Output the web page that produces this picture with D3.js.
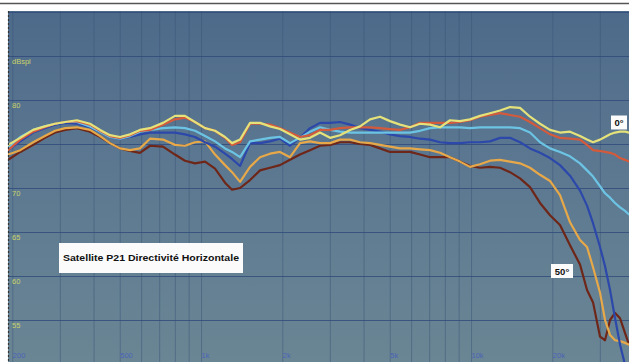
<!DOCTYPE html>
<html><head><meta charset="utf-8">
<script src="https://cdn.jsdelivr.net/npm/d3@7/dist/d3.min.js"></script>
<style>body{margin:0;background:#fff}svg{display:block}</style>
</head><body><svg id="c" width="629" height="362"></svg>
<script>
// ---- data ----
const freqs = [193,214,239,264,288,314,347,388,423,460,501,546,594,647,723,801,872,950,1035,1127,1227,1303,1395,1519,1654,1801,1961,2136,2326,2533,2759,3005,3273,3565,3882,4227,4603,5012,5458,5944,6473,7049,7677,8360,9105,9915,10798,11760,12806,13945,15188,16538,18012,19613,21358,23263,25333,26894,28310,30047,31356,32726,34152,35645,37196,38485];
const deg0  = [74.9,75.7,76.6,77.0,77.3,77.5,77.7,77.3,76.6,76.0,75.8,76.1,76.6,76.8,77.4,78.2,78.2,77.5,76.8,76.5,75.8,75.1,75.5,77.4,77.4,77.0,76.7,76.1,75.5,75.7,76.3,75.7,76.0,76.6,77.0,77.8,78.1,77.6,77.2,76.9,77.3,77.2,76.9,77.7,77.6,77.8,78.2,78.5,78.8,79.2,79.1,78.1,77.3,76.6,76.3,76.4,75.9,75.5,75.2,75.5,75.8,76.1,76.3,76.4,76.4,76.3];
const deg10 = [74.3,75.5,76.4,76.9,77.3,77.5,77.6,77.2,76.5,75.9,75.7,76.0,76.5,76.6,77.2,77.8,78.0,77.5,76.8,76.5,75.7,74.9,75.2,77.3,77.3,77.2,76.8,76.3,75.8,76.0,76.6,76.6,76.8,76.9,76.9,76.9,76.8,76.7,76.6,76.9,77.4,77.4,77.4,77.4,77.5,77.7,78.1,78.3,78.5,78.3,78.1,77.5,76.8,76.1,75.7,75.6,75.5,74.9,74.3,74.2,74.1,74.0,73.8,73.4,73.2,73.0];
const deg20 = [74.5,75.8,76.6,77.0,77.3,77.5,77.5,77.0,76.4,75.8,75.6,75.9,76.4,76.6,76.8,76.9,76.8,76.5,75.9,75.3,74.5,74.1,73.5,75.3,75.5,75.7,75.8,75.1,75.7,76.4,76.9,76.6,76.4,76.3,76.3,76.3,76.3,76.3,76.3,76.3,76.5,76.8,76.9,76.9,76.9,76.8,76.9,76.9,76.9,76.9,76.8,76.3,75.2,74.5,74.1,73.6,72.8,72.0,71.3,70.2,69.4,68.9,68.3,67.8,67.4,67.0];
const deg30 = [74.3,75.3,76.3,76.8,77.2,77.4,77.3,76.9,76.4,75.8,75.6,75.8,76.1,76.3,76.3,76.3,76.1,75.8,75.2,74.7,73.9,73.3,72.5,75.1,75.1,75.3,75.6,74.8,75.7,76.8,77.4,77.4,77.5,77.2,76.8,76.6,76.4,76.1,75.9,75.8,75.6,75.5,75.2,75.1,75.1,75.2,75.2,75.3,75.7,75.7,75.2,74.5,74.0,73.4,72.6,71.4,69.7,68.0,66.0,63.3,61.1,58.4,55.2,52.2,49.9,48.8];
const deg40 = [73.8,74.3,75.2,75.9,76.5,76.8,76.9,76.6,75.9,75.1,74.5,74.3,74.5,75.6,75.5,74.9,74.8,75.2,75.3,73.8,72.6,71.8,70.7,72.4,73.5,73.9,74.1,73.5,75.1,75.3,75.1,75.1,75.5,75.5,75.2,75.1,74.9,74.7,74.5,74.5,74.4,74.3,74.0,73.5,73.0,72.4,72.7,73.1,73.2,73.0,72.8,72.3,71.5,70.8,69.2,66.1,64.1,63.3,61.0,58.1,55.0,53.3,52.7,52.6,52.4,52.2];
const deg50 = [73.2,74.1,74.9,75.7,76.3,76.6,76.8,76.4,75.8,75.1,74.5,74.2,74.0,74.8,74.7,73.8,73.1,72.8,73.0,72.2,70.6,69.8,70.0,70.9,72.0,72.3,72.6,73.2,73.8,74.3,74.8,74.9,75.2,75.2,75.0,74.9,74.5,74.1,74.1,74.1,73.8,73.5,73.5,73.5,73.0,72.5,72.3,72.4,72.3,71.8,71.1,70.1,68.3,66.9,65.8,63.5,61.3,58.4,57.0,53.1,52.7,55.0,55.8,55.2,53.5,52.2];

const seriesNames  = ['50°','40°','30°','20°','10°','0°'];
const seriesColors = ['#6e2618','#e6a848','#2c48aa','#6cc4e4','#d45a3c','#e6e27a'];
const yTickValues = [55,60,65,70,80,85];
const yTickLabels = ['55','60','65','70','80','dBspl'];
const xTickValues = [200,500,1000,2000,5000,10000,20000];
const xTickLabels = ['200','500','1k','2k','5k','10k','20k'];
const chartTitle = 'Satellite P21 Directivité Horizontale';

// ---- drawing ----
const svg = d3.select('#c');
const W = 629, H = 362;
const plot = {x:8, y:11, w:W-8, h:H-11};

const x = d3.scaleLog().domain([200,20000]).range([12.3,552.3]);
const y = d3.scaleLinear().domain([50,90]).range([364,12]);

const defs = svg.append('defs');
const grad = defs.append('linearGradient').attr('id','bg').attr('x1',0).attr('y1',0).attr('x2',0).attr('y2',1);
grad.append('stop').attr('offset','0%').attr('stop-color','#4d6a8a');
grad.append('stop').attr('offset','45%').attr('stop-color','#5c7891');
grad.append('stop').attr('offset','100%').attr('stop-color','#6a8694');
defs.append('clipPath').attr('id','clip').append('rect')
  .attr('x',plot.x).attr('y',plot.y).attr('width',plot.w).attr('height',plot.h);

// page frame
svg.append('rect').attr('width',W).attr('height',H).attr('fill','#fff');
svg.append('line').attr('x1',0).attr('x2',W).attr('y1',3.5).attr('y2',3.5)
  .attr('stroke','#555').attr('stroke-width',1.5);
svg.append('rect').attr('x',plot.x).attr('y',plot.y).attr('width',plot.w).attr('height',plot.h)
  .attr('fill','url(#bg)');

const g = svg.append('g').attr('clip-path','url(#clip)');

// vertical log grid
const vgrid = [];
[100,1000,10000].forEach(d=>{for(let k=1;k<10;k++) vgrid.push(d*k);});
vgrid.push(100000);
g.append('g').attr('transform',`translate(0,${plot.y})`)
  .call(d3.axisBottom(x).tickValues(vgrid.filter(v=>x(v)>plot.x && x(v)<W)).tickSize(plot.h).tickFormat(''))
  .call(s=>s.select('.domain').remove())
  .selectAll('line').attr('stroke','#3b5578').attr('stroke-opacity',0.5).attr('stroke-width',1);

// horizontal grid every 5 dB
g.append('g').attr('transform',`translate(${plot.x},0)`)
  .call(d3.axisRight(y).tickValues(d3.range(50,91,5)).tickSize(plot.w).tickFormat(''))
  .call(s=>s.select('.domain').remove())
  .selectAll('line').attr('stroke','#2f4a7a').attr('stroke-opacity',0.8).attr('stroke-width',1.2);

// y labels
const yAx = g.append('g').attr('transform',`translate(11,0)`)
  .call(d3.axisRight(y).tickValues(yTickValues).tickSize(0).tickFormat((d,i)=>yTickLabels[i]));
yAx.select('.domain').remove();
yAx.selectAll('text').attr('x',1).attr('dy','0.95em').attr('text-anchor','start')
  .attr('fill','#c9d26a').attr('font-size','7.5px').attr('font-family','Liberation Sans, Arial, sans-serif');

// x labels
const xAx = g.append('g').attr('transform',`translate(0,351)`)
  .call(d3.axisBottom(x).tickValues(xTickValues).tickSize(0).tickFormat((d,i)=>xTickLabels[i]));
xAx.select('.domain').remove();
xAx.selectAll('text').attr('text-anchor','start').attr('dy','0.5em')
  .attr('fill','#4a63b6').attr('font-size','7.5px').attr('font-family','Liberation Sans, Arial, sans-serif');

// curves
const allSeries = [deg50,deg40,deg30,deg20,deg10,deg0];
const line = d3.line().x((d,i)=>x(freqs[i])).y(d=>y(d)).curve(d3.curveLinear);
g.selectAll('path.curve').data(allSeries).join('path').attr('class','curve')
  .attr('d',line).attr('fill','none')
  .attr('stroke',(d,i)=>seriesColors[i]).attr('stroke-width',2.2)
  .attr('stroke-linejoin','round').attr('stroke-linecap','round');

// left dotted border
svg.append('line').attr('x1',plot.x+0.5).attr('x2',plot.x+0.5).attr('y1',plot.y).attr('y2',H)
  .attr('stroke','#333').attr('stroke-width',1.2).attr('stroke-dasharray','2,2');

// title box
const tb = svg.append('g');
tb.append('rect').attr('x',59).attr('y',243).attr('width',184).attr('height',30).attr('fill','#fbfbfb');
tb.append('text').attr('x',151).attr('y',261).attr('text-anchor','middle')
  .attr('font-family','Liberation Sans, Arial, sans-serif').attr('font-weight','bold').attr('font-size','8.5px')
  .attr('textLength',176).attr('lengthAdjust','spacingAndGlyphs').attr('fill','#111').text(chartTitle);

// angle labels
function tag(cx, cy, w, txt){
  svg.append('rect').attr('x',cx-w/2).attr('y',cy-7).attr('width',w).attr('height',14).attr('fill','#fbfbfb');
  svg.append('text').attr('x',cx).attr('y',cy+3.5).attr('text-anchor','middle')
    .attr('font-family','Liberation Sans, Arial, sans-serif').attr('font-weight','bold').attr('font-size','9.5px')
    .attr('fill','#111').text(txt);
}
tag(619,122.5,16,seriesNames[5]);
tag(562,271,22,seriesNames[0]);
</script></body></html>
